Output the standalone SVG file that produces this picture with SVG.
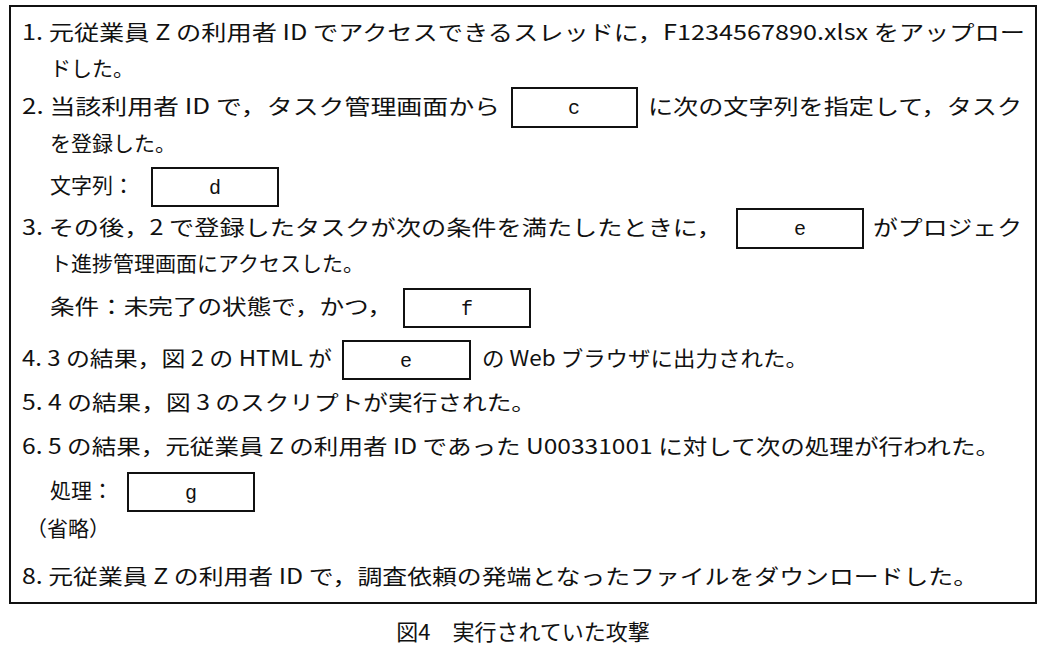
<svg xmlns="http://www.w3.org/2000/svg" width="1046" height="649" viewBox="0 0 1046 649">
<style>
text{font-family:"Noto Sans CJK JP","Noto Sans",sans-serif;font-size:21px;fill:#111}
.b{fill:#fff;stroke:#111;stroke-width:2}
.l{font-family:"Liberation Mono",monospace;font-size:20px;text-anchor:middle}
</style>
<rect x="0" y="0" width="1046" height="649" fill="#fff"/>
<rect x="10" y="6" width="1026" height="597" fill="none" stroke="#111" stroke-width="2"/>
<g id="lines">
<text x="22" y="40" textLength="1003" lengthAdjust="spacingAndGlyphs">1. 元従業員 Z の利用者 ID でアクセスできるスレッドに，F1234567890.xlsx をアップロー</text>
<text x="50" y="76">ドした。</text>
<text x="22" y="114" textLength="478" lengthAdjust="spacingAndGlyphs">2. 当該利用者 ID で，タスク管理画面から</text>
<text x="648" y="114" textLength="374" lengthAdjust="spacingAndGlyphs">に次の文字列を指定して，タスク</text>
<text x="50" y="151">を登録した。</text>
<text x="50" y="193">文字列：</text>
<text x="22" y="235" textLength="700" lengthAdjust="spacingAndGlyphs">3. その後，2 で登録したタスクが次の条件を満たしたときに，</text>
<text x="873" y="235" textLength="149" lengthAdjust="spacingAndGlyphs">がプロジェク</text>
<text x="50" y="271">ト進捗管理画面にアクセスした。</text>
<text x="50" y="314" textLength="342" lengthAdjust="spacingAndGlyphs">条件：未完了の状態で，かつ，</text>
<text x="22" y="366" textLength="310" lengthAdjust="spacingAndGlyphs">4. 3 の結果，図 2 の HTML が</text>
<text x="482" y="366" textLength="326" lengthAdjust="spacingAndGlyphs">の Web ブラウザに出力された。</text>
<text x="22" y="410" textLength="514" lengthAdjust="spacingAndGlyphs">5. 4 の結果，図 3 のスクリプトが実行された。</text>
<text x="22" y="454" textLength="978" lengthAdjust="spacingAndGlyphs">6. 5 の結果，元従業員 Z の利用者 ID であった U00331001 に対して次の処理が行われた。</text>
<text x="50" y="498">処理：</text>
<text x="26" y="536">（省略）</text>
<text x="22" y="584" textLength="956" lengthAdjust="spacingAndGlyphs">8. 元従業員 Z の利用者 ID で，調査依頼の発端となったファイルをダウンロードした。</text>
</g>
<g id="box-c"><rect class="b" x="512" y="88" width="125" height="39"/><text class="l" x="574" y="114">c</text></g>
<g id="box-d"><rect class="b" x="152" y="168" width="126" height="38"/><text class="l" x="215" y="194">d</text></g>
<g id="box-e1"><rect class="b" x="737" y="209" width="126" height="39"/><text class="l" x="800" y="235">e</text></g>
<g id="box-f"><rect class="b" x="404" y="289" width="126" height="38"/><text class="l" x="467" y="315">f</text></g>
<g id="box-e2"><rect class="b" x="343" y="341" width="127" height="38"/><text class="l" x="406" y="367">e</text></g>
<g id="box-g"><rect class="b" x="128" y="473" width="126" height="38"/><text class="l" x="191" y="499">g</text></g>
<text x="523" y="640" text-anchor="middle" style="font-size:22px">図4　実行されていた攻撃</text>
</svg>
